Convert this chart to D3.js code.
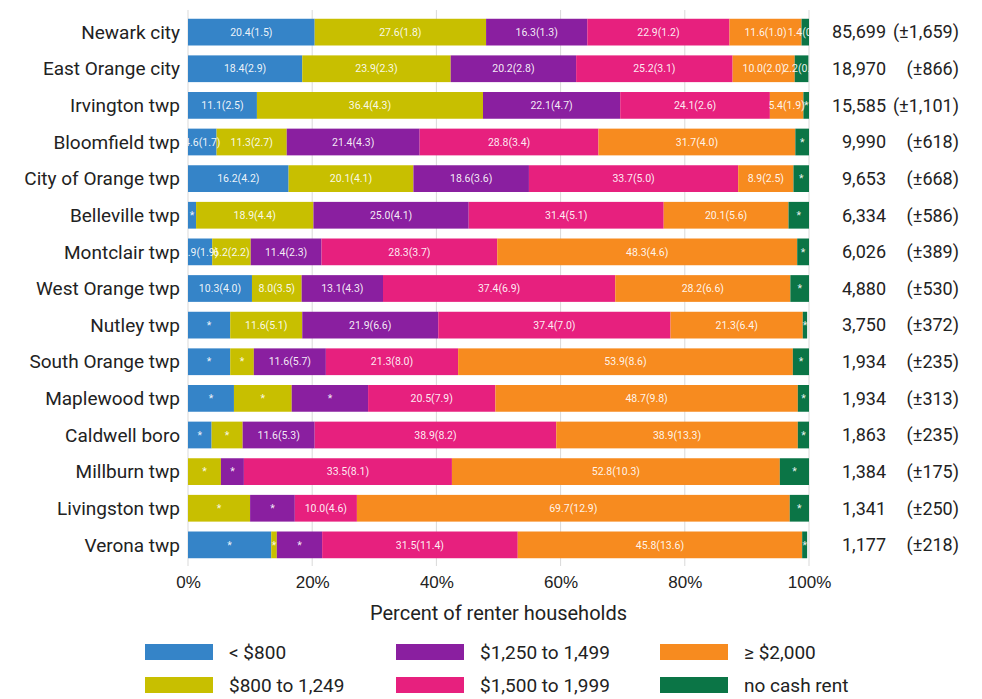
<!DOCTYPE html>
<meta charset="utf-8">
<style>
body { margin: 0; background: #fff; }
svg { font-family: Roboto, "Noto Sans", sans-serif; }
.place { font-size: 19px; fill: #222; }
.total { font-size: 18px; fill: #222; }
.seglabel { font-size: 10.5px; fill: #fff; fill-opacity: 0.92; }
.axis text { font-size: 17px; fill: #222; }
.axis path { display: none; }
.grid line { stroke: #d9d9d9; stroke-width: 1px; }
.legend text { font-size: 19px; fill: #222; }
</style>
<svg width="982" height="699"></svg>
<script src="https://d3js.org/d3.v7.min.js"></script>
<script>
var places = ["Newark city", "East Orange city", "Irvington twp", "Bloomfield twp",
  "City of Orange twp", "Belleville twp", "Montclair twp", "West Orange twp", "Nutley twp",
  "South Orange twp", "Maplewood twp", "Caldwell boro", "Millburn twp", "Livingston twp", "Verona twp"];

var totals = ["85,699", "18,970", "15,585", "9,990", "9,653", "6,334", "6,026", "4,880",
  "3,750", "1,934", "1,934", "1,863", "1,384", "1,341", "1,177"];
var totalsMoe = ["1,659", "866", "1,101", "618", "668", "586", "389", "530",
  "372", "235", "313", "235", "175", "250", "218"];

// percent of renter households; null moe = unreliable estimate, shown as "*"
var under800 = [20.4, 18.4, 11.1, 4.6, 16.2, 1.3, 3.9, 10.3, 6.8, 6.8, 7.4, 3.8, 0, 0, 13.4];
var under800Moe = [1.5, 2.9, 2.5, 1.7, 4.2, null, 1.9, 4.0, null, null, null, null, null, null, null];
var r800 = [27.6, 23.9, 36.4, 11.3, 20.1, 18.9, 6.2, 8.0, 11.6, 3.8, 9.3, 5.0, 5.3, 10.0, 0.9];
var r800Moe = [1.8, 2.3, 4.3, 2.7, 4.1, 4.4, 2.2, 3.5, 5.1, null, null, null, null, null, null];
var r1250 = [16.3, 20.2, 22.1, 21.4, 18.6, 25.0, 11.4, 13.1, 21.9, 11.6, 12.3, 11.6, 3.7, 7.2, 7.3];
var r1250Moe = [1.3, 2.8, 4.7, 4.3, 3.6, 4.1, 2.3, 4.3, 6.6, 5.7, null, 5.3, null, null, null];
var r1500 = [22.9, 25.2, 24.1, 28.8, 33.7, 31.4, 28.3, 37.4, 37.4, 21.3, 20.5, 38.9, 33.5, 10.0, 31.5];
var r1500Moe = [1.2, 3.1, 2.6, 3.4, 5.0, 5.1, 3.7, 6.9, 7.0, 8.0, 7.9, 8.2, 8.1, 4.6, 11.4];
var r2000 = [11.6, 10.0, 5.4, 31.7, 8.9, 20.1, 48.3, 28.2, 21.3, 53.9, 48.7, 38.9, 52.8, 69.7, 45.8];
var r2000Moe = [1.0, 2.0, 1.9, 4.0, 2.5, 5.6, 4.6, 6.6, 6.4, 8.6, 9.8, 13.3, 10.3, 12.9, 13.6];
var noCash = [1.4, 2.2, 0.9, 2.2, 2.5, 3.3, 1.9, 3.0, 0.7, 2.6, 1.8, 1.8, 4.7, 3.1, 0.8];
var noCashMoe = [0.3, 0.6, null, null, null, null, null, null, null, null, null, null, null, null, null];

var seriesNames = ["< $800", "$800 to 1,249", "$1,250 to 1,499", "$1,500 to 1,999", "\u2265 $2,000", "no cash rent"];
var seriesValues = [under800, r800, r1250, r1500, r2000, noCash];
var seriesMoe = [under800Moe, r800Moe, r1250Moe, r1500Moe, r2000Moe, noCashMoe];
var colors = ["#3584c8", "#c8bf00", "#8a1fa0", "#e7207e", "#f78b1f", "#0b7546"];
var xTicks = [0, 20, 40, 60, 80, 100];

var svg = d3.select("svg");
var plotLeft = 188, plotRight = 809, plotTop = 14, plotBottom = 563;

var x = d3.scaleLinear().domain([0, 100]).range([plotLeft, plotRight]);
var y = d3.scaleBand().domain(places).range([plotTop, plotBottom]).paddingInner(0.27).paddingOuter(0.13);

// build segments
var segs = [];
places.forEach(function(p, i) {
  var acc = 0;
  seriesValues.forEach(function(vals, k) {
    var v = vals[i];
    var m = seriesMoe[k][i];
    segs.push({place: p, k: k, x0: acc, x1: acc + v, v: v,
      label: m == null ? "*" : v.toFixed(1) + "(" + m.toFixed(1) + ")"});
    acc += v;
  });
});

svg.append("defs").append("clipPath").attr("id", "plot")
  .append("rect").attr("x", plotLeft).attr("y", 0)
  .attr("width", plotRight - plotLeft).attr("height", plotBottom + 5);

svg.append("g").attr("class", "grid")
  .selectAll("line").data(xTicks).enter().append("line")
    .attr("x1", function(d) { return x(d); }).attr("x2", function(d) { return x(d); })
    .attr("y1", plotTop - 4).attr("y2", plotBottom + 3);

var plot = svg.append("g").attr("clip-path", "url(#plot)");

plot.selectAll("rect.seg").data(segs).enter().append("rect")
  .attr("class", "seg")
  .attr("x", function(d) { return x(d.x0); })
  .attr("width", function(d) { return x(d.x1) - x(d.x0); })
  .attr("y", function(d) { return y(d.place); })
  .attr("height", y.bandwidth())
  .attr("fill", function(d) { return colors[d.k]; });

plot.selectAll("text.seglabel").data(segs.filter(function(d) { return d.v > 0; })).enter().append("text")
  .attr("class", "seglabel")
  .attr("x", function(d) { return x((d.x0 + d.x1) / 2); })
  .attr("y", function(d) { return y(d.place) + y.bandwidth() / 2; })
  .attr("dy", "0.35em")
  .attr("text-anchor", "middle")
  .text(function(d) { return d.label; });

svg.append("g").selectAll("text").data(places).enter().append("text")
  .attr("class", "place")
  .attr("x", plotLeft - 8)
  .attr("y", function(d) { return y(d) + y.bandwidth() / 2; })
  .attr("dy", "0.35em")
  .attr("text-anchor", "end")
  .text(function(d) { return d; });

var tg = svg.append("g");
tg.selectAll("text.n").data(places).enter().append("text")
  .attr("class", "total n")
  .attr("x", 886)
  .attr("y", function(d) { return y(d) + y.bandwidth() / 2; })
  .attr("dy", "0.35em")
  .attr("text-anchor", "end")
  .text(function(d, i) { return totals[i]; });
tg.selectAll("text.m").data(places).enter().append("text")
  .attr("class", "total m")
  .attr("x", 959)
  .attr("y", function(d) { return y(d) + y.bandwidth() / 2; })
  .attr("dy", "0.35em")
  .attr("text-anchor", "end")
  .text(function(d, i) { return "(\u00b1" + totalsMoe[i] + ")"; });

svg.append("g").attr("class", "axis")
  .attr("transform", "translate(0," + plotBottom + ")")
  .call(d3.axisBottom(x).tickValues(xTicks).tickSize(0).tickPadding(13)
    .tickFormat(function(d) { return d + "%"; }));

svg.append("text")
  .attr("x", (plotLeft + plotRight) / 2).attr("y", 620)
  .attr("text-anchor", "middle")
  .style("font-size", "20px").style("fill", "#222")
  .text("Percent of renter households");

var legendCols = [145, 396, 660];
var legendRows = [652, 685];
var lg = svg.append("g").attr("class", "legend");
seriesNames.forEach(function(name, k) {
  var cx = legendCols[Math.floor(k / 2)], cy = legendRows[k % 2];
  lg.append("rect").attr("x", cx).attr("y", cy - 8).attr("width", 68).attr("height", 16)
    .attr("fill", colors[k]);
  lg.append("text").attr("x", cx + 84).attr("y", cy).attr("dy", "0.35em").text(name);
});
</script>
